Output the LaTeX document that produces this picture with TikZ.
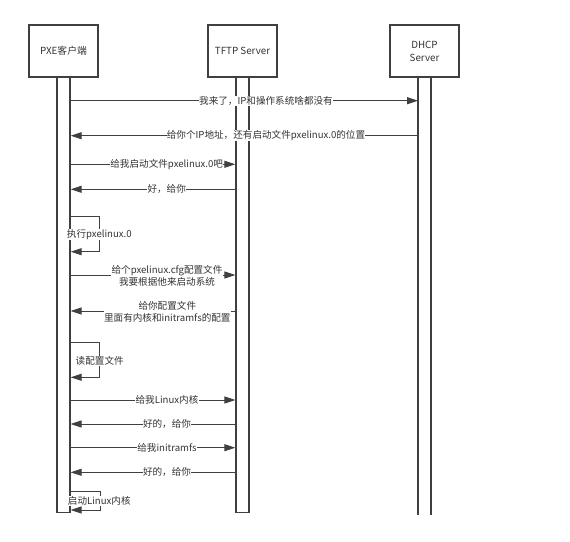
\documentclass[tikz,border=0pt]{standalone}
\usepackage{fontspec}
\setmainfont{Noto Sans CJK SC}
\usetikzlibrary{arrows.meta}
\definecolor{ln}{HTML}{404040}
\definecolor{tx}{HTML}{333333}
\tikzset{
  actor/.style={draw=ln, line width=1.2pt, minimum width=69pt, minimum height=52pt, inner sep=0pt, align=center, text=tx, font=\fontsize{9.8}{13}\selectfont},
  bar/.style={draw=ln, line width=1.2pt, minimum width=13pt, inner sep=0pt},
  msg/.style={draw=ln, line width=1pt, -{Triangle[length=11pt,width=7pt]}},
  lbl/.style={fill=white, inner sep=0.3pt, text=tx, align=center, font=\fontsize{9.6}{11.7}\selectfont},
}
\begin{document}
\begin{tikzpicture}[x=1pt,y=-1pt]
\useasboundingbox (0,0) rectangle (570,541);
% actors
\node[actor] (pxe) at (63.5,51) {PXE客户端};
\node[actor] (tftp) at (242.5,51) {TFTP Server};
\node[actor] (dhcp) at (424.5,51) {DHCP\\Server};
% activation bars
\node[bar, minimum height=435pt, anchor=north] (pxebar) at (63.5,77) {};
\node[bar, minimum height=435pt, anchor=north] (tftpbar) at (242.5,77) {};
\coordinate (dhcpL) at (418,77);
\coordinate (dhcpR) at (431,77);
\coordinate (dhcpLb) at (418,515);
\coordinate (dhcpRb) at (431,515);
\draw[ln, line width=1.2pt] (dhcpL) -- (dhcpLb);
\draw[ln, line width=1.2pt] (dhcpR) -- (dhcpRb);
% messages
\draw[msg] (pxebar.east |- 0,100.7) -- (dhcpL |- 0,100.7);
\node[lbl] (m1) at (266,100.7) {我来了，IP和操作系统啥都没有};
\draw[msg] (dhcpL |- 0,135.7) -- (pxebar.east |- 0,135.7);
\node[lbl] (m2) at (266,135.7) {给你个IP地址，还有启动文件pxelinux.0的位置};
\draw[msg] (pxebar.east |- 0,164.3) -- (tftpbar.west |- 0,164.3);
\node[lbl] (m3) at (166.7,164.3) {给我启动文件pxelinux.0吧};
\draw[msg] (tftpbar.west |- 0,189.3) -- (pxebar.east |- 0,189.3);
\node[lbl] (m4) at (166.7,189.3) {好，给你};
% self loop 1
\draw[msg] (pxebar.east |- 0,216) -| (99.3,251.7) -- (pxebar.east |- 0,251.7);
\node[lbl] (s1) at (99.3,234.3) {执行pxelinux.0};
\draw[msg] (pxebar.east |- 0,275) -- (tftpbar.west |- 0,275);
\node[lbl] (m5) at (167,276) {给个pxelinux.cfg配置文件\\我要根据他来启动系统};
\draw[msg] (tftpbar.west |- 0,311) -- (pxebar.east |- 0,311);
\node[lbl] (m6) at (167.3,312) {给你配置文件\\里面有内核和initramfs的配置};
% self loop 2
\draw[msg] (pxebar.east |- 0,342.7) -| (99.3,377.3) -- (pxebar.east |- 0,377.3);
\node[lbl] (s2) at (99.7,361) {读配置文件};
\draw[msg] (pxebar.east |- 0,400) -- (tftpbar.west |- 0,400);
\node[lbl] (m7) at (167,400) {给我Linux内核};
\draw[msg] (tftpbar.west |- 0,424) -- (pxebar.east |- 0,424);
\node[lbl] (m8) at (167,424) {好的，给你};
\draw[msg] (pxebar.east |- 0,447.7) -- (tftpbar.west |- 0,447.7);
\node[lbl] (m9) at (167,447.7) {给我initramfs};
\draw[msg] (tftpbar.west |- 0,472.3) -- (pxebar.east |- 0,472.3);
\node[lbl] (m10) at (167,472.3) {好的，给你};
% self loop 3
\draw[msg] (pxebar.east |- 0,491) -| (100,510) -- (pxebar.east |- 0,510);
\node[lbl] (s3) at (99.3,501) {启动Linux内核};
\end{tikzpicture}
\end{document}
